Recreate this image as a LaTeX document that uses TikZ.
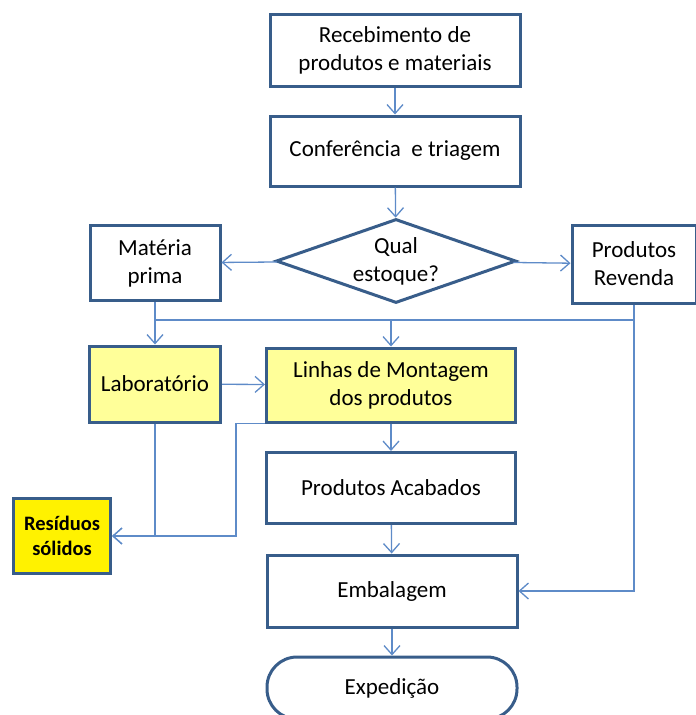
\documentclass[tikz,border=0pt]{standalone}
\usepackage{fontspec}
\setmainfont{Carlito}
\usetikzlibrary{shapes.geometric,arrows.meta}
\definecolor{boxblue}{RGB}{56,93,138}
\definecolor{linkblue}{RGB}{94,139,200}
\definecolor{paleyellow}{RGB}{255,255,153}

\begin{document}
\begin{tikzpicture}[x=1pt,y=-1pt,->,>={Straight Barb[length=9pt,width=16pt]},
                    every node/.style={font=\fontsize{23}{28}\selectfont,align=center,text=black},
                    box/.style={shape=rectangle,draw=boxblue,line width=3pt,inner sep=0pt,fill=white},
                    link/.style={draw=linkblue,line width=1.3pt}]

  \path[use as bounding box,clip] (0,0) rectangle (696,715);

  \node[box,minimum width=250pt,minimum height=72pt] (R) at (395,50)  {Recebimento de\\produtos e materiais};
  \node[box,minimum width=250pt,minimum height=70pt] (C) at (395,151) {Conferência~ e triagem};
  \node[box,shape=diamond,aspect=2.86,minimum width=240pt,minimum height=84pt] (Q) at (396,261) {Qual\\estoque?};
  \node[box,minimum width=130pt,minimum height=75pt] (M) at (155,263) {Matéria\\prima};
  \node[box,minimum width=124pt,minimum height=78pt] (V) at (634,264) {Produtos\\Revenda};
  \node[box,fill=paleyellow,minimum width=131pt,minimum height=76pt] (L) at (155,384) {Laboratório};
  \node[box,fill=paleyellow,minimum width=249pt,minimum height=74pt] (N) at (391,385) {Linhas de Montagem\\dos produtos};
  \node[box,minimum width=249pt,minimum height=71pt] (A) at (391,488) {Produtos Acabados};
  \node[box,minimum width=250pt,minimum height=72pt] (E) at (392,591) {Embalagem};
  \node[box,rounded corners=30pt,minimum width=250pt,minimum height=62pt] (X) at (392,688) {Expedição};
  \node[box,fill=yellow,minimum width=97pt,minimum height=75pt,
        font=\fontsize{20.5}{25}\selectfont\bfseries] (S) at (62,536) {Resíduos\\sólidos};

  \coordinate (bus) at (0,320);

  \path[link] (R) edge (C)
              (C) edge (Q)
              (Q) edge (M)
              (Q) edge (V)
              (M) edge (L)
              (L) edge (N)
              (N) edge (A)
              (A) edge (E)
              (E) edge (X);
  \draw[link,-] (M.south |- bus) -- (V.south |- bus);
  \draw[link] (N.north |- bus) -- (N.north);
  \draw[link] (V.south) |- (E.east);
  \draw[link] (L.south) |- (S.east);
  \draw[link] (N.south west) -- ++(-29,0) |- (S.east);
\end{tikzpicture}
\end{document}
